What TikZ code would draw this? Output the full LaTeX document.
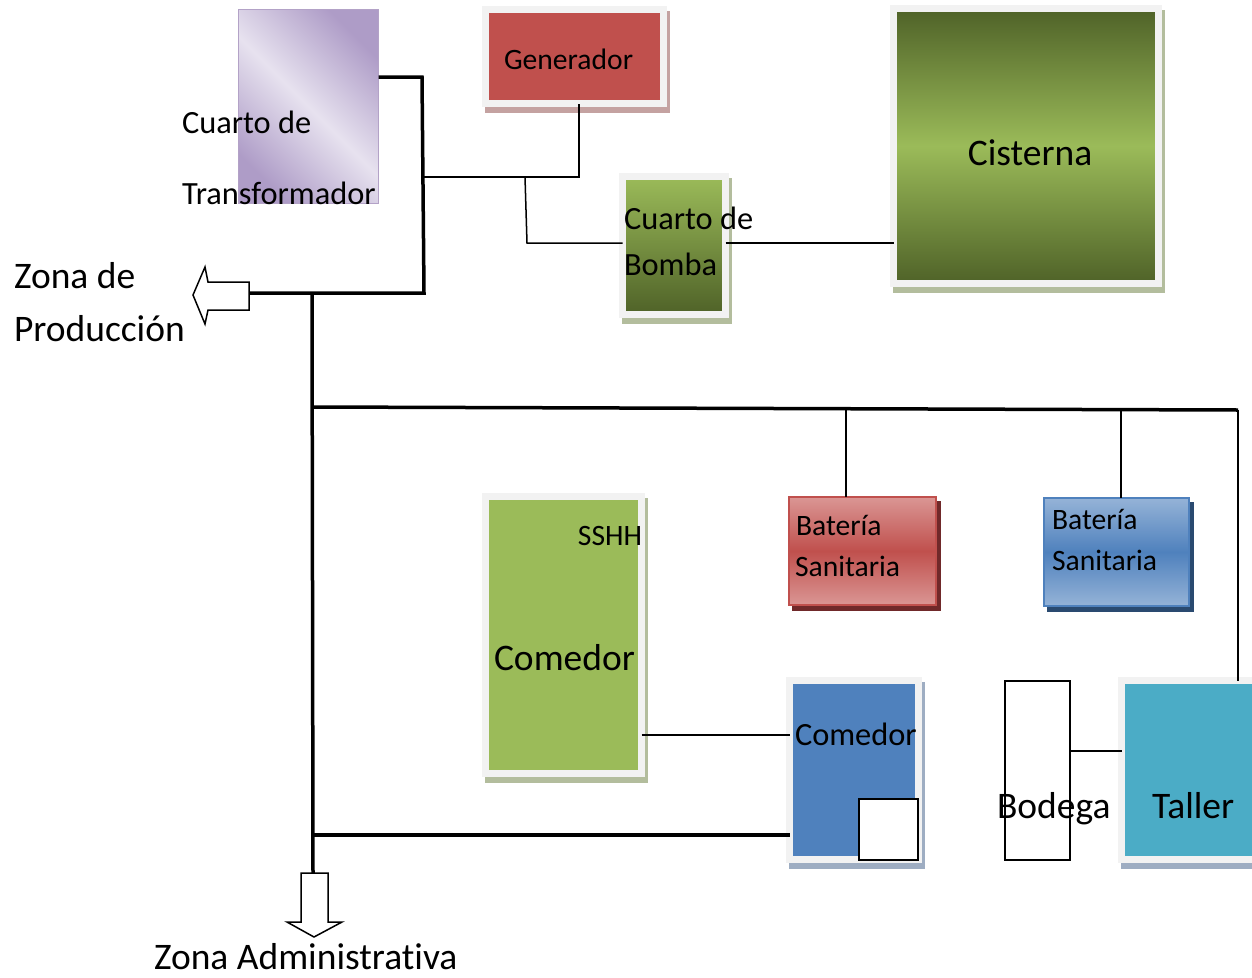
\documentclass[tikz,border=0pt]{standalone}
\usepackage{fontspec}
\setmainfont{Carlito}[Ligatures={NoCommon}]
\usetikzlibrary{calc}

\definecolor{frameg}{HTML}{F2F2F2}
\definecolor{redA}{HTML}{C0504D}
\definecolor{redL}{HTML}{DA9694}
\definecolor{shRed}{HTML}{C4A2A1}
\definecolor{shRedD}{HTML}{70292A}
\definecolor{olvL}{HTML}{9BBB59}
\definecolor{olvD}{HTML}{4F6228}
\definecolor{shGrn}{HTML}{B3BD9D}
\definecolor{blu}{HTML}{4F81BD}
\definecolor{bluL}{HTML}{95B3D7}
\definecolor{shBlu}{HTML}{9EADC2}
\definecolor{shBluD}{HTML}{2A4A70}
\definecolor{tea}{HTML}{4BACC6}
\definecolor{trBorder}{HTML}{B3A2C7}
\definecolor{trDark}{HTML}{AE9CC7}
\definecolor{trLight}{HTML}{E7E2EF}

\newcommand\fbig{\fontsize{37.5pt}{41pt}\selectfont}
\newcommand\fmid{\fontsize{32.4pt}{37pt}\selectfont}
\newcommand\fsml{\fontsize{29.6pt}{34pt}\selectfont}

\pgfdeclarelayer{background}
\pgfsetlayers{background,main}

\begin{document}
\begin{tikzpicture}[x=1pt,y=-1pt,
  panel/.style={draw=frameg, line width=7pt, inner sep=0pt, outer sep=0pt},
  plainbox/.style={draw=black, fill=white, line width=1.5pt, inner sep=0pt, outer sep=0pt},
  lbl/.style={inner sep=0pt, outer sep=0pt, text=black},
  thin line/.style={draw=black, line width=1.5pt},
  thick line/.style={draw=black, line width=3.5pt},
  blockarrow/.style={draw=black, fill=white, line width=1.5pt, line join=miter}]

\useasboundingbox (0,0) rectangle (1252,977);

% ---- rooms ----
\node[draw=trBorder, line width=1.5pt, inner sep=0pt, outer sep=0pt,
      top color=trDark, bottom color=trDark, middle color=trLight, shading angle=-45,
      minimum width=140pt, minimum height=194pt] (trafo) at (308.5,106.5) {};
\node[panel, fill=redA, minimum width=178pt, minimum height=94pt] (gen) at (574.5,56.5) {};
\node[panel, top color=olvL, bottom color=olvD,
      minimum width=103pt, minimum height=138pt] (bomba) at (674,245.5) {};
\node[panel, top color=olvD, bottom color=olvD, middle color=olvL,
      minimum width=265pt, minimum height=275pt] (cist) at (1026,146) {};
\node[panel, fill=olvL, minimum width=156pt, minimum height=277pt] (comg) at (563.5,635) {};
\node[panel, fill=blu, minimum width=129pt, minimum height=179pt] (comb) at (854,770) {};
\node[panel, fill=tea, minimum width=137pt, minimum height=179pt] (taller) at (1190,770) {};
\node[draw=redA, line width=2pt, inner sep=0pt, outer sep=0pt,
      top color=redL, bottom color=redL, middle color=redA,
      minimum width=147pt, minimum height=108pt] (batr) at (862.5,551) {};
\node[draw=blu, line width=2pt, inner sep=0pt, outer sep=0pt,
      top color=bluL, bottom color=bluL, middle color=blu,
      minimum width=145pt, minimum height=108pt] (batb) at (1116.5,552) {};
\node[plainbox, minimum width=59pt, minimum height=61pt] (sq) at (888.5,829.5) {};
\node[plainbox, minimum width=65pt, minimum height=179pt] (bod) at (1037.5,770.5) {};

% ---- drop shadows behind the rooms ----
\begin{pgfonlayer}{background}
  \foreach \n/\c in {gen/shRed, bomba/shGrn, cist/shGrn, comg/shGrn, comb/shBlu, taller/shBlu}
    \fill[\c] ($(\n.north west)+(-0.5,1.5)$) rectangle ($(\n.south east)+(6.5,9.5)$);
  \fill[shRedD] ($(batr.north west)+(3,4)$) rectangle ($(batr.south east)+(5,6)$);
  \fill[shBluD] ($(batb.north west)+(3,4)$) rectangle ($(batb.south east)+(5,6)$);
\end{pgfonlayer}

% ---- block arrows to the other zones ----
\draw[blockarrow] (249,282) -- (208,282) -- (205,267) -- (193,295) -- (205,324)
  -- (208,310) -- (249,310) -- cycle;
\coordinate (prodtail) at (249,293);
\draw[blockarrow] (301,873) -- (328,873) -- (328,922) -- (342,922) -- (314,937)
  -- (287,922) -- (301,922) -- cycle;
\coordinate (admtail) at (313,873);

% ---- junction points ----
\coordinate (jtop) at (422,77);
\coordinate (jprod) at (424,293);
\coordinate (jtrunk) at (312,293);
\coordinate (jbranch) at (423,177);
\coordinate (jgen) at (579,177);
\coordinate (jsplit) at (525,177);
\coordinate (jbomba) at (527,243);
\coordinate (jbusl) at (313,407);
\coordinate (jbusr) at (1238,410);
\coordinate (jbr) at (846,408);
\coordinate (jbb) at (1121,410);
\coordinate (jcom) at (700,735);
\coordinate (jlow) at (313,835);
\coordinate (jbt) at (1090,751);

% ---- main feeders ----
\draw[thick line, line join=miter] (trafo.east |- jtop) -- (jtop) -- (jprod) -- (prodtail);
\draw[thick line] (jtrunk) -- (admtail);
\draw[thick line] (jbusl) -- (jbusr);
\draw[draw=black, line width=2pt] (jbusr) -- (taller.north -| jbusr);
\draw[thick line] (jlow) -- (comb.west |- jlow);

% ---- branch lines ----
\draw[thin line] (jbranch) -- (jgen) -- (gen.south -| jgen);
\draw[thin line] (jsplit) -- (jbomba) -- (bomba.west |- jbomba);
\draw[thin line] (bomba.east |- jbomba) -- (cist.west |- jbomba);
\draw[thin line] (jbr) -- (batr.north -| jbr);
\draw[thin line] (jbb) -- (batb.north -| jbb);
\draw[thin line] (comg.east |- jcom) -- (comb.west |- jcom);
\draw[thin line] (bod.east |- jbt) -- (taller.west |- jbt);

% ---- labels ----
\node[lbl, font=\fmid, anchor=base west] (tTr1) at (182,133) {Cuarto de};
\node[lbl, font=\fmid, anchor=base west] (tTr2) at (182,204) {Transformador};
\node[lbl, font=\fsml, anchor=base west] (tGen) at (504,69) {Generador};
\node[lbl, font=\fmid, anchor=base west] (tBo1) at (624,229) {Cuarto de};
\node[lbl, font=\fmid, anchor=base west] (tBo2) at (624,275) {Bomba};
\node[lbl, font=\fbig, anchor=base] (tCis) at (1030,165) {Cisterna};
\node[lbl, font=\fbig, anchor=base west] (tZp1) at (14,288) {Zona de};
\node[lbl, font=\fbig, anchor=base west] (tZp2) at (14,341) {Producción};
\node[lbl, font=\fsml, anchor=base east] (tSS) at (642,545) {SSHH};
\node[lbl, font=\fbig, anchor=base west] (tCg) at (494,670) {Comedor};
\node[lbl, font=\fsml, anchor=base west] (tBr1) at (796,535) {Batería};
\node[lbl, font=\fsml, anchor=base west] (tBr2) at (795,576) {Sanitaria};
\node[lbl, font=\fsml, anchor=base west] (tBb1) at (1052,529) {Batería};
\node[lbl, font=\fsml, anchor=base west] (tBb2) at (1052,570) {Sanitaria};
\node[lbl, font=\fmid, anchor=base west] (tCb) at (795,745) {Comedor};
\node[lbl, font=\fbig, anchor=base west] (tBod) at (997,818) {Bodega};
\node[lbl, font=\fbig, anchor=base west] (tTal) at (1152,818) {Taller};
\node[lbl, font=\fbig, anchor=base west] (tZa) at (154,969) {Zona Administrativa};

\end{tikzpicture}
\end{document}
